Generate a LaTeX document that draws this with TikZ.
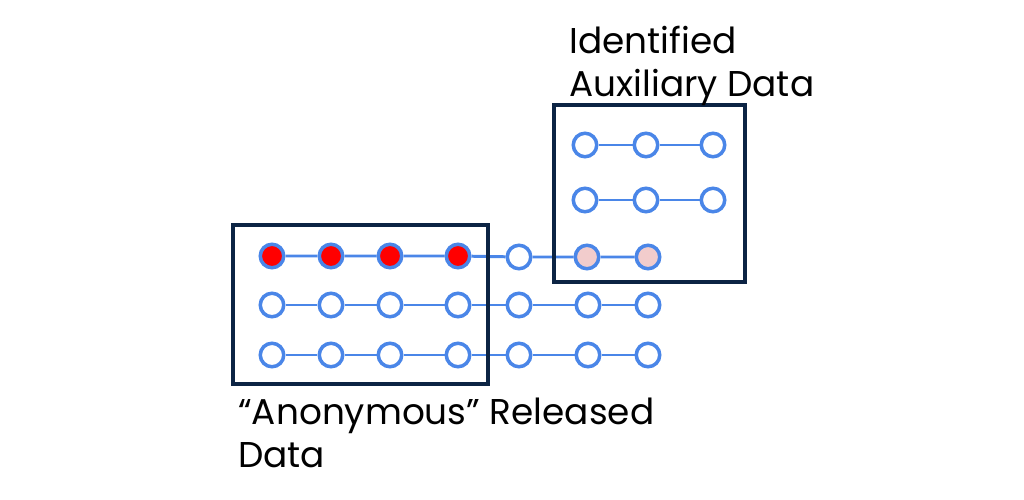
\documentclass[tikz,border=0pt]{standalone}
\usepackage{fontspec}
\setmainfont{Poppins}
\definecolor{linkblue}{RGB}{74,134,232}
\definecolor{boxnavy}{RGB}{12,36,68}
\definecolor{leakred}{RGB}{255,0,0}
\definecolor{matchpink}{RGB}{242,204,204}
\usetikzlibrary{positioning}

\begin{document}
\begin{tikzpicture}[x=0.02cm, y=-0.02cm,
		rec/.style={circle, draw=linkblue, line width=2pt, fill=white,
			minimum size=0.47cm, inner sep=0pt},
		leak/.style={rec, fill=leakred},
		hit/.style={rec, fill=matchpink},
		link/.style={linkblue, line width=1.7pt},
		dbox/.style={draw=boxnavy, line width=2pt},
		lab/.style={font=\fontsize{20.4}{24.4}\selectfont, align=left,
			anchor=north west, inner sep=0pt}
	]
		\useasboundingbox (0,0) rectangle (1024,500);
		% released rows
		\node[leak] (a1) at (272,256) {};
		\node[leak] (a2) at (331,256) {};
		\node[leak] (a3) at (390,256) {};
		\node[leak] (a4) at (458,256) {};
		\node[rec]  (a5) at (519,257) {};
		\node[hit]  (a6) at (587,257) {};
		\node[hit]  (a7) at (648,257) {};
		\node[rec] (b1) at (272,305) {};
		\node[rec] (b2) at (331,305) {};
		\node[rec] (b3) at (390,305) {};
		\node[rec] (b4) at (458,305) {};
		\node[rec] (b5) at (519,305) {};
		\node[rec] (b6) at (588,305) {};
		\node[rec] (b7) at (648,305) {};
		\node[rec] (c1) at (272,355) {};
		\node[rec] (c2) at (331,355) {};
		\node[rec] (c3) at (390,355) {};
		\node[rec] (c4) at (458,355) {};
		\node[rec] (c5) at (519,355) {};
		\node[rec] (c6) at (588,355) {};
		\node[rec] (c7) at (648,355) {};
		% auxiliary rows
		\node[rec] (p1) at (585,145) {};
		\node[rec] (p2) at (646,145) {};
		\node[rec] (p3) at (713,145) {};
		\node[rec] (q1) at (585,200) {};
		\node[rec] (q2) at (646,200) {};
		\node[rec] (q3) at (713,200) {};
		\draw[link] (a1) -- (a2) -- (a3) -- (a4) -- (a5) -- (a6) -- (a7);
		\draw[link] (b1) -- (b2) -- (b3) -- (b4) -- (b5) -- (b6) -- (b7);
		\draw[link] (c1) -- (c2) -- (c3) -- (c4) -- (c5) -- (c6) -- (c7);
		\draw[link] (p1) -- (p2) -- (p3);
		\draw[link] (q1) -- (q2) -- (q3);
		\draw[dbox] (233,225) rectangle (488,384);
		\draw[dbox] (554,105) rectangle (745,282);
		\node[lab] (auxlab) at (569,26) {Identified\\Auxiliary Data};
		\node[lab] (anonlab) at (238,398) {“Anonymous” Released\\Data};
	\end{tikzpicture}
\end{document}
